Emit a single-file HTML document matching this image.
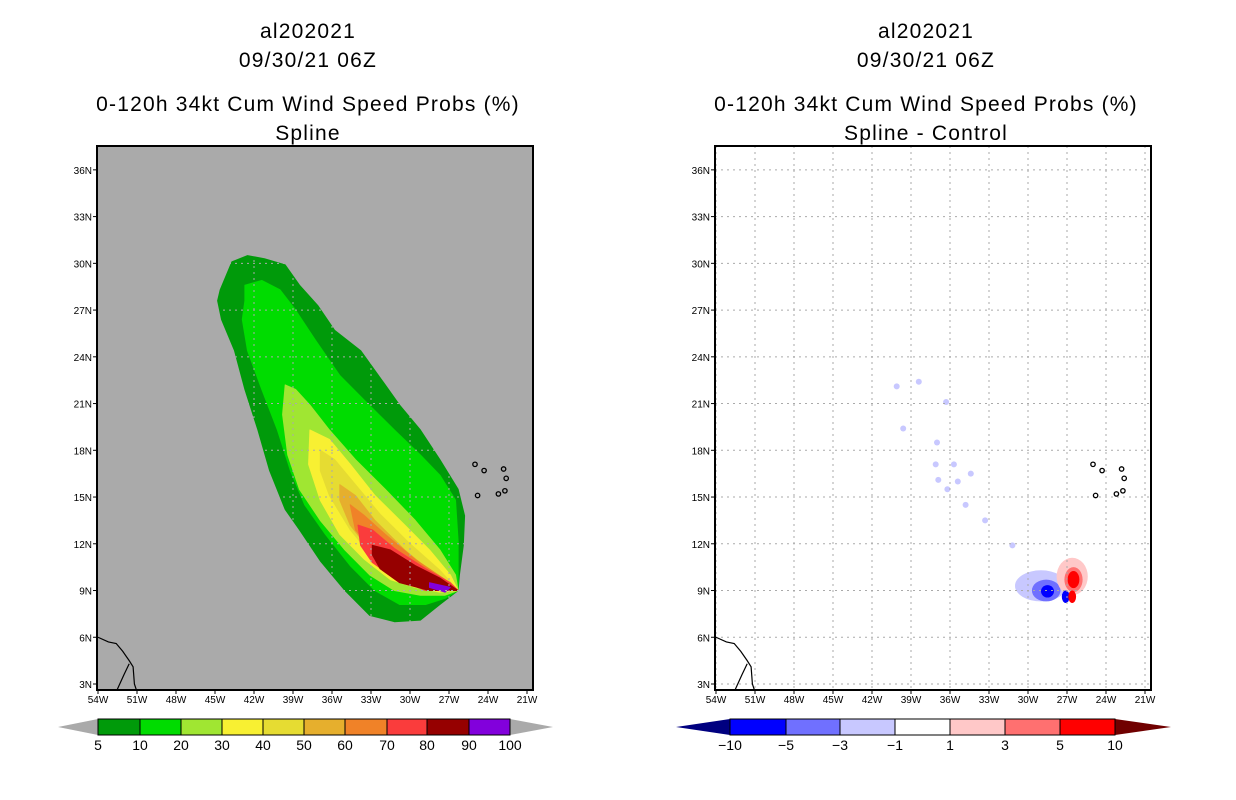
<!DOCTYPE html>
<html><head><meta charset="utf-8"><style>
body{margin:0;background:#fff;}
svg{display:block;font-family:"Liberation Sans",sans-serif;}
</style></head><body>
<svg id="chart" width="1236" height="800" viewBox="0 0 1236 800">
<g id="left"></g>
<g id="right"></g>
</svg>
<script>
// ---- data ----
const lonTicks=[-54,-51,-48,-45,-42,-39,-36,-33,-30,-27,-24,-21];
const latTicks=[3,6,9,12,15,18,21,24,27,30,33,36];
const probLevels=[5,10,20,30,40,50,60,70,80,90,100];
const probColors=["#009a0a","#00dc00","#a0e632","#f8f032","#e6dc32","#e6af2d","#f08228","#fa3c3c","#960000","#8200dc"];
const diffLevels=[-10,-5,-3,-1,1,3,5,10];
const diffColors=["#000080","#0000ff","#7070ff","#c8c8ff","#ffffff","#ffc8c8","#ff7070","#ff0000","#700000"];
// contour polygons [lon,lat]
const c5=[[-44.6,28.3],[-43.7,30.1],[-42.5,30.5],[-41.2,30.3],[-39.6,29.9],[-38.5,28.6],[-37.1,27.3],[-35.8,25.7],[-33.8,24.4],[-31.9,22.2],[-30.8,20.9],[-29.2,19.3],[-27.7,17.4],[-26.3,15.5],[-25.8,13.8],[-25.9,11.9],[-26.2,10.0],[-26.3,9.0],[-27.7,8.1],[-29.2,7.1],[-31.2,7.0],[-33.1,7.4],[-35.0,9.0],[-36.9,10.9],[-38.5,12.9],[-39.6,14.2],[-40.8,16.7],[-41.7,19.3],[-42.7,21.9],[-43.5,24.4],[-44.5,26.4],[-44.8,27.6]];
const c10=[[-42.7,27.6],[-42.7,28.6],[-41.4,28.9],[-40.0,28.3],[-38.8,27.0],[-37.3,25.1],[-35.4,22.8],[-33.5,21.2],[-31.2,19.3],[-29.2,17.7],[-27.7,16.4],[-26.5,14.8],[-26.3,12.2],[-26.3,10.0],[-26.3,9.0],[-27.3,8.5],[-28.8,8.1],[-30.8,8.1],[-32.7,9.0],[-34.6,10.6],[-36.5,12.6],[-38.1,14.5],[-39.2,16.7],[-40.2,19.3],[-41.4,21.9],[-42.5,24.4],[-42.9,26.4]];
const c20=[[-39.6,22.2],[-38.8,21.9],[-37.7,20.9],[-36.2,19.3],[-34.2,17.4],[-31.9,15.5],[-29.6,13.5],[-27.7,11.6],[-26.5,10.0],[-26.3,9.0],[-27.3,8.7],[-29.2,8.7],[-31.2,9.0],[-33.1,10.0],[-35.0,11.6],[-36.9,13.5],[-38.5,15.5],[-39.4,17.7],[-39.8,20.3]];
const c30=[[-37.7,19.3],[-36.2,18.7],[-34.6,17.1],[-32.7,15.1],[-30.4,13.2],[-28.5,11.6],[-26.9,10.0],[-26.3,9.0],[-27.7,8.9],[-29.6,9.2],[-31.5,9.7],[-33.5,11.0],[-35.4,12.6],[-36.9,14.8],[-37.8,17.1]];
const c40=[[-36.9,18.0],[-35.8,17.4],[-34.2,15.8],[-32.3,13.9],[-30.0,12.0],[-27.7,10.3],[-26.3,9.0],[-28.5,9.0],[-30.8,9.7],[-32.7,11.0],[-34.6,12.9],[-36.2,15.1],[-36.9,16.7]];
const c50=[[-35.4,15.8],[-34.2,15.1],[-32.7,13.5],[-30.4,11.6],[-28.1,10.0],[-26.3,9.0],[-28.8,9.2],[-31.2,10.0],[-33.1,11.6],[-34.6,13.2],[-35.4,14.8]];
const c60=[[-34.6,14.5],[-33.5,13.8],[-31.9,12.6],[-29.6,11.0],[-27.3,9.7],[-26.3,9.0],[-28.8,9.2],[-31.2,10.2],[-32.9,11.6],[-34.2,12.9]];
const c70=[[-34.0,13.2],[-32.9,12.9],[-31.2,11.7],[-28.8,10.4],[-26.9,9.5],[-26.3,9.0],[-28.8,9.0],[-31.2,9.8],[-32.9,10.8],[-33.8,11.9]];
const c80=[[-32.9,11.9],[-31.5,11.6],[-29.6,10.6],[-27.7,9.8],[-26.3,9.0],[-28.5,9.0],[-30.8,9.5],[-32.3,10.4],[-32.9,11.3]];
const c90=[[-28.5,9.5],[-26.9,9.2],[-27.3,8.9],[-28.5,9.2]];
const probContours=[c5,c10,c20,c30,c40,c50,c60,c70,c80,c90];
// difference blobs
const diffBlobsLon=[-29.0,-28.6,-28.5,-26.6,-26.5,-26.5,-27.1,-26.6];
const diffBlobsLat=[9.3,9.0,8.95,9.9,9.7,9.7,8.6,8.6];
const diffBlobsRLon=[2.0,1.1,0.5,1.2,0.7,0.45,0.3,0.3];
const diffBlobsRLat=[1.0,0.7,0.4,1.2,0.8,0.55,0.4,0.4];
const diffBlobsCol=[3,2,1,5,6,7,1,7];
const speckLon=[-38.4,-36.3,-39.6,-37.0,-35.7,-37.1,-36.9,-34.4,-35.4,-36.2,-34.8,-33.3,-31.2,-40.1];
const speckLat=[22.4,21.1,19.4,18.5,17.1,17.1,16.1,16.5,16.0,15.5,14.5,13.5,11.9,22.1];
const isleLon=[-25.0,-24.3,-22.8,-22.6,-24.8,-23.2,-22.7];
const isleLat=[17.1,16.7,16.8,16.2,15.1,15.2,15.4];

function makeEl(tag,attrs,parent){const e=document.createElementNS("http://www.w3.org/2000/svg",tag);for(const k in attrs)e.setAttribute(k,attrs[k]);parent.appendChild(e);return e;}

function panel(g,x0,cx,title2,isDiff){
  const x=lon=>x0+(lon+54)*13;
  const y=lat=>684-(lat-3)*15.58;
  const L=x0-1,R=x0+435,T=146,B=690;
  let t;
  const titles=["al202021","09/30/21 06Z","0-120h 34kt Cum Wind Speed Probs (%)",title2];
  const ty=[38,67,111,140];
  const tn=["storm-id-title","date-title","product-title","method-title"];
  titles.forEach((s,i)=>{t=makeEl("text",{x:cx,y:ty[i],"text-anchor":"middle","font-size":"21","letter-spacing":"1.2"},g);t.textContent=s;
    
    });
  const bg=makeEl("rect",{x:L,y:T,width:R-L,height:B-T,fill:isDiff?"#fff":"#aaaaaa"},g);
  
  
  const clipId="clip"+x0;
  const cp=makeEl("clipPath",{id:clipId},g);makeEl("rect",{x:L,y:T,width:R-L,height:B-T},cp);
  const mg=makeEl("g",{"clip-path":"url(#"+clipId+")"},g);
  if(!isDiff){
    probContours.forEach((poly,i)=>{
      const p=makeEl("polygon",{points:poly.map(q=>x(q[0]).toFixed(1)+","+y(q[1]).toFixed(1)).join(" "),fill:probColors[i],"stroke":probColors[i],"stroke-width":"1","stroke-linejoin":"round"},mg);
      
      
    });
  }else{
    speckLon.forEach((lo,i)=>{
      const s=makeEl("ellipse",{cx:x(lo),cy:y(speckLat[i]),rx:3,ry:3,fill:diffColors[3]},mg);
      
      
    });
    diffBlobsLon.forEach((lo,i)=>{
      const s=makeEl("ellipse",{cx:x(lo),cy:y(diffBlobsLat[i]),rx:diffBlobsRLon[i]*13,ry:diffBlobsRLat[i]*15.58,fill:diffColors[diffBlobsCol[i]]},mg);
      
      
    });
  }
  const gg=makeEl("g",{stroke:"#aaaaaa","stroke-width":"1","stroke-dasharray":"2,4"},mg);
  
  
  lonTicks.forEach(lo=>makeEl("line",{x1:x(lo),x2:x(lo),y1:T,y2:B},gg));
  latTicks.forEach(la=>makeEl("line",{x1:L,x2:R,y1:y(la),y2:y(la)},gg));
  const cst=makeEl("path",{d:`M${x(-54)} ${y(6)} L${x(-53.2)} ${y(5.7)} L${x(-52.6)} ${y(5.6)} L${x(-52.1)} ${y(5.1)} L${x(-51.6)} ${y(4.5)} L${x(-51.3)} ${y(4.1)} L${x(-51.2)} ${y(3.0)} L${x(-51.0)} ${y(2.5)} M${x(-52.6)} ${y(2.5)} L${x(-52.0)} ${y(3.6)} L${x(-51.6)} ${y(4.3)}`,fill:"none",stroke:"#000","stroke-width":"1.2"},mg);
  
  
  isleLon.forEach((lo,i)=>{
    const s=makeEl("circle",{cx:x(lo),cy:y(isleLat[i]),r:2.2,fill:"none",stroke:"#000","stroke-width":"1.3"},mg);
    
    
  });
  const fr=makeEl("rect",{x:L,y:T,width:R-L,height:B-T,fill:"none",stroke:"#000","stroke-width":"2"},g);
  
  
  lonTicks.forEach(lo=>{makeEl("line",{x1:x(lo),x2:x(lo),y1:B,y2:B+4,stroke:"#000"},g);
    t=makeEl("text",{x:x(lo),y:B+13,"text-anchor":"middle","font-size":"10"},g);t.textContent=Math.abs(lo)+"W";
    
    });
  latTicks.forEach(la=>{makeEl("line",{x1:L-4,x2:L,y1:y(la),y2:y(la),stroke:"#000"},g);
    t=makeEl("text",{x:L-5,y:y(la)+4,"text-anchor":"end","font-size":"10"},g);t.textContent=la+"N";
    
    });
}
function colorbar(g,edges,tips,colors,levels,ends,fmt){
  const y0=719,y1=735,ym=727;
  const l=makeEl("polygon",{points:`${tips[0]},${ym} ${edges[0]},${y0} ${edges[0]},${y1}`,fill:ends[0]},g);
  
  
  const r=makeEl("polygon",{points:`${tips[1]},${ym} ${edges[edges.length-1]},${y0} ${edges[edges.length-1]},${y1}`,fill:ends[1]},g);
  
  
  for(let i=0;i<edges.length-1;i++){
    const b=makeEl("rect",{x:edges[i],y:y0,width:edges[i+1]-edges[i],height:y1-y0,fill:colors[i],stroke:"#000","stroke-width":"1"},g);
    
    
  }
  levels.forEach((v,i)=>{const t=makeEl("text",{x:edges[i],y:750,"text-anchor":"middle","font-size":"14"},g);t.textContent=fmt(v);
    
    });
}
const L=document.getElementById("left"),Rg=document.getElementById("right");
panel(L,98,308,"Spline",false);
panel(Rg,716,926,"Spline - Control",true);
colorbar(L,[98,140,181,222,263,304,345,387,427,469,510],[58,553],probColors,probLevels,["#aaaaaa","#aaaaaa"],v=>String(v));
colorbar(Rg,[730,786,840,895,950,1005,1060,1115],[676,1171],diffColors.slice(1,8),diffLevels,[diffColors[0],diffColors[8]],v=>v<0?"\u2212"+Math.abs(v):String(v));
</script>
</body></html>
